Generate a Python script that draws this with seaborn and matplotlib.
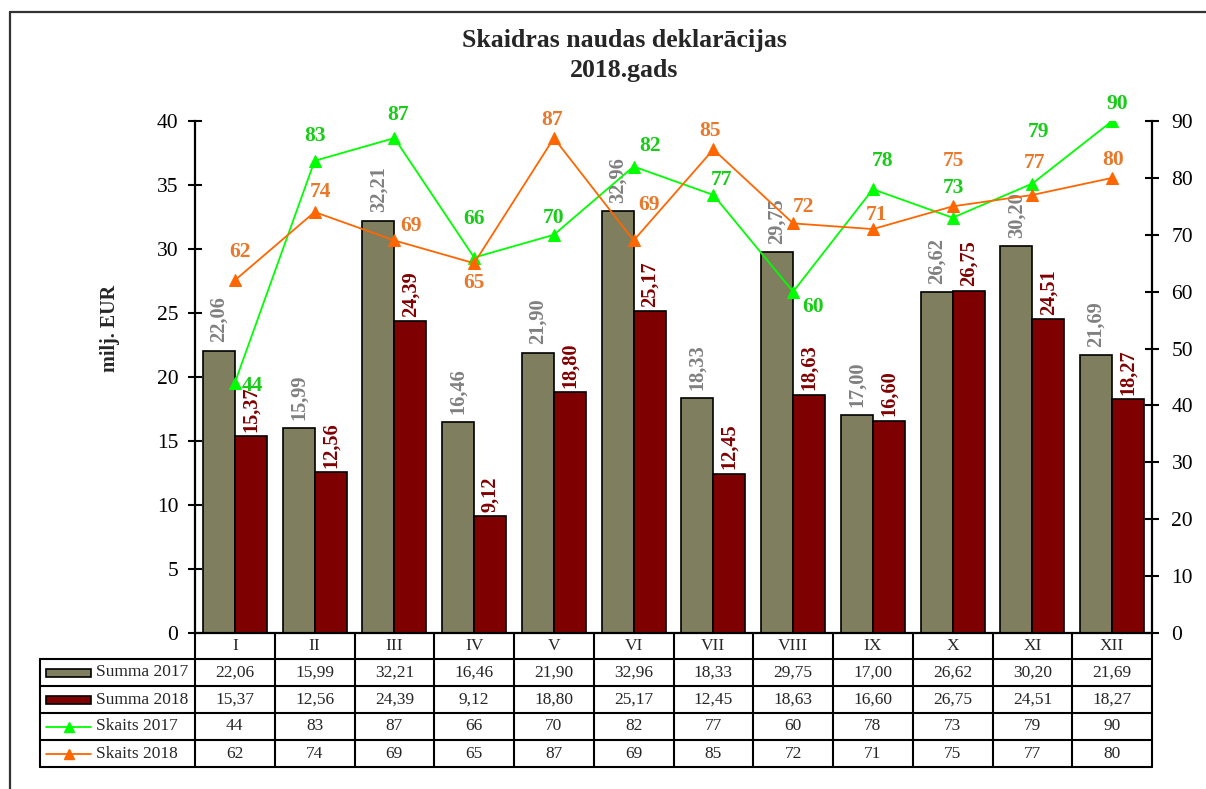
import numpy as np
import pandas as pd
import matplotlib
matplotlib.use("Agg")
import matplotlib.pyplot as plt
import seaborn as sns
from matplotlib.lines import Line2D
from matplotlib.patches import Rectangle

# Dati
menesi = ["I", "II", "III", "IV", "V", "VI", "VII", "VIII", "IX", "X", "XI", "XII"]
summa_2017 = [22.06, 15.99, 32.21, 16.46, 21.90, 32.96, 18.33, 29.75, 17.00, 26.62, 30.20, 21.69]
summa_2018 = [15.37, 12.56, 24.39, 9.12, 18.80, 25.17, 12.45, 18.63, 16.60, 26.75, 24.51, 18.27]
skaits_2017 = [44, 83, 87, 66, 70, 82, 77, 60, 78, 73, 79, 90]
skaits_2018 = [62, 74, 69, 65, 87, 69, 85, 72, 71, 75, 77, 80]

# Krāsas
c_bar17 = "#7f7f5f"
c_bar18 = "#7f0000"
c_line17 = "#00ff00"
c_line18 = "#ff6600"
c_txt17 = "#18cc18"
c_txt18 = "#e8782a"

# etiķešu nobīdes (pikseļos) līnijām
off_17 = [(17, -3), (0, 25), (4, 23), (0, 39), (0, 17), (16, 21), (8, 15), (20, -15), (10, 28), (1, 30), (6, 52), (5, 17)]
off_18 = [(5, 28), (6, 20), (17, 14), (0, -20), (-2, 18), (15, 35), (-3, 18), (10, 16), (4, 14), (1, 45), (2, 32), (1, 18)]


def fmt(v):
    return f"{v:.2f}".replace(".", ",")


sns.set_theme(style="white")
plt.rcParams["font.family"] = ["Liberation Serif", "DejaVu Serif"]

W, H = 1206, 789
fig = plt.figure(figsize=(W / 100, H / 100), dpi=100)

ax_l, ax_r, ax_t, ax_b = 195, 1152, 121, 633
ax = fig.add_axes([ax_l / W, 1 - ax_b / H, (ax_r - ax_l) / W, (ax_b - ax_t) / H])

df = pd.DataFrame({
    "menesis": menesi * 2,
    "summa": summa_2017 + summa_2018,
    "sērija": ["Summa 2017"] * 12 + ["Summa 2018"] * 12,
})
sns.barplot(data=df, x="menesis", y="summa", hue="sērija", palette=[c_bar17, c_bar18],
            edgecolor="black", linewidth=1.2, width=0.8, gap=0, legend=False, ax=ax,
            saturation=1)

ax.bar_label(ax.containers[0], labels=[fmt(v) for v in summa_2017], rotation=90,
             padding=6, color="#808080", fontsize=14.7, fontweight="bold")
ax.bar_label(ax.containers[1], labels=[fmt(v) for v in summa_2018], rotation=90,
             padding=3, color="#800000", fontsize=14.7, fontweight="bold")

ax.set_xlim(-0.5, 11.5)
ax.set_ylim(0, 40)
ax.set_yticks(range(0, 41, 5))
ax.set_xticks([])
ax.set_xlabel("")
ax.set_ylabel("")
ax.tick_params(axis="y", direction="inout", length=10, width=1.5, labelsize=15.5, pad=7,
               left=True, colors="black")
for s in ["top", "right"]:
    ax.spines[s].set_visible(False)
for s in ["left", "bottom"]:
    ax.spines[s].set_color("black")
    ax.spines[s].set_linewidth(1.6)

ax2 = ax.twinx()
x_pos = np.arange(12)
sns.lineplot(x=x_pos, y=skaits_2017, color=c_line17, marker="^", markersize=8,
             markeredgecolor=c_line17, linewidth=1.3, ax=ax2)
sns.lineplot(x=x_pos, y=skaits_2018, color=c_line18, marker="^", markersize=8,
             markeredgecolor=c_line18, linewidth=1.3, ax=ax2)
ax2.set_ylim(0, 90)
ax2.set_yticks(range(0, 91, 10))
ax2.set_xlim(-0.5, 11.5)
ax2.tick_params(axis="y", direction="inout", length=10, width=1.5, labelsize=15.5, pad=9,
                right=True, colors="black")
for s in ["top", "left", "bottom"]:
    ax2.spines[s].set_visible(False)
ax2.spines["right"].set_color("black")
ax2.spines["right"].set_linewidth(1.6)

for i, v in enumerate(skaits_2017):
    ax2.annotate(str(v), (i, v), xytext=off_17[i], textcoords="offset pixels",
                 ha="center", va="center", color=c_txt17, fontsize=15.5, fontweight="bold")
for i, v in enumerate(skaits_2018):
    ax2.annotate(str(v), (i, v), xytext=off_18[i], textcoords="offset pixels",
                 ha="center", va="center", color=c_txt18, fontsize=15.5, fontweight="bold")

# virsraksts un ass nosaukums
fig.text(624 / W, 1 - 40 / H, "Skaidras naudas deklarācijas", ha="center", va="center",
         fontsize=18.5, fontweight="bold")
fig.text(624 / W, 1 - 70 / H, "2018.gads", ha="center", va="center",
         fontsize=18.5, fontweight="bold")
fig.text(110 / W, 1 - 328 / H, "milj. EUR", rotation=90, ha="center", va="center",
         fontsize=14.5, fontweight="bold")

# tabula zem grafika
ov = fig.add_axes([0, 0, 1, 1], zorder=5)
ov.set_xlim(0, W)
ov.set_ylim(H, 0)
ov.axis("off")
ov.patch.set_alpha(0)

# rāmis
ov.add_line(Line2D([10, W], [12, 12], color="#333333", lw=1.6))
ov.add_line(Line2D([10, 10], [12, H], color="#333333", lw=1.6))

col_w = (ax_r - ax_l) / 12
cols = [ax_l + k * col_w for k in range(13)]
rows = [633, 659, 686, 713, 740, 767]
tab_l = 40
lw = 1.5

for x in cols:
    ov.add_line(Line2D([x, x], [rows[0], rows[-1]], color="black", lw=lw))
ov.add_line(Line2D([tab_l, tab_l], [rows[1], rows[-1]], color="black", lw=lw))
for y in rows[1:]:
    ov.add_line(Line2D([tab_l, ax_r], [y, y], color="black", lw=lw))

hdr_y = (rows[0] + rows[1]) / 2
for k, m in enumerate(menesi):
    ov.text((cols[k] + cols[k + 1]) / 2, hdr_y, m, ha="center", va="center", fontsize=12.5)

rindas = [
    ("Summa 2017", [fmt(v) for v in summa_2017], "bar", c_bar17),
    ("Summa 2018", [fmt(v) for v in summa_2018], "bar", c_bar18),
    ("Skaits 2017", [str(v) for v in skaits_2017], "line", c_line17),
    ("Skaits 2018", [str(v) for v in skaits_2018], "line", c_line18),
]
for r, (nos, vals, kind, col) in enumerate(rindas):
    yc = (rows[r + 1] + rows[r + 2]) / 2
    if kind == "bar":
        ov.add_patch(Rectangle((46, yc - 4), 45, 8, facecolor=col, edgecolor="black", lw=1.2))
    else:
        ov.add_line(Line2D([46, 91], [yc, yc], color=col, lw=1.3))
        ov.add_line(Line2D([68.5], [yc], color=col, marker="^", markersize=7))
    ov.text(96, yc, nos, ha="left", va="center", fontsize=12.5)
    for k, t in enumerate(vals):
        ov.text((cols[k] + cols[k + 1]) / 2, yc, t, ha="center", va="center", fontsize=12.5)

fig.savefig("out.png", dpi=100)
